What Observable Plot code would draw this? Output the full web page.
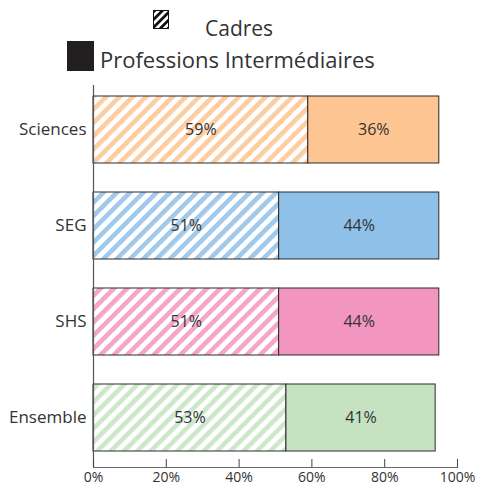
<!DOCTYPE html>
<html>
<head>
<meta charset="utf-8">
<script src="https://cdn.jsdelivr.net/npm/d3@7"></script>
<script src="https://cdn.jsdelivr.net/npm/@observablehq/plot@0.6"></script>
<style>
  html, body { margin: 0; padding: 0; background: #fff; }
  #wrap { width: 478px; height: 488px; position: relative; overflow: hidden; font-family: "Open Sans", sans-serif; }
  #legend { display: block; }
  #chart svg { display: block; }
</style>
</head>
<body>
<div id="wrap">
  <svg id="legend" width="478" height="80"></svg>
  <div id="chart"></div>
</div>
<script>
// ---- data ----
const categories = ["Sciences", "SEG", "SHS", "Ensemble"];
const cadres = [59, 51, 51, 53];
const profInter = [36, 44, 44, 41];
const colors = ["#fdc592", "#8fc0e8", "#f395c1", "#c5e3c1"];
const xTicks = [0, 20, 40, 60, 80, 100];
const legendLabels = ["Cadres", "Professions Intermédiaires"];

const FONT = "Open Sans, sans-serif";
const ink = "#333";

// ---- legend ----
const leg = d3.select("#legend");
const ldefs = leg.append("defs");
const lp = ldefs.append("pattern").attr("id", "hatch-legend")
  .attr("patternUnits", "userSpaceOnUse").attr("width", 5.5).attr("height", 5.5)
  .attr("patternTransform", "rotate(45)");
lp.append("rect").attr("width", 5.5).attr("height", 5.5).attr("fill", "#fff");
lp.append("rect").attr("width", 2.8).attr("height", 5.5).attr("fill", "#111");
leg.append("rect").attr("x", 153.5).attr("y", 10.5).attr("width", 15).attr("height", 18)
  .attr("fill", "url(#hatch-legend)").attr("stroke", "#111");
leg.append("text").attr("x", 205).attr("y", 36).attr("font-family", FONT).attr("font-size", 21)
  .attr("fill", ink).text(legendLabels[0]);
leg.append("rect").attr("x", 67).attr("y", 41).attr("width", 27).attr("height", 30).attr("fill", "#231f20");
leg.append("text").attr("x", 100).attr("y", 68).attr("font-family", FONT).attr("font-size", 22)
  .attr("fill", ink).text(legendLabels[1]);

// ---- table ----
const rows = [];
categories.forEach((c, i) => {
  rows.push({cat: c, idx: i, kind: "Cadres", x1: 0, x2: cadres[i], v: cadres[i], fill: `url(#hatch-${i})`});
  rows.push({cat: c, idx: i, kind: "PI", x1: cadres[i], x2: cadres[i] + profInter[i], v: profInter[i], fill: colors[i]});
});

const H = 408, MB = 21, MT = 0;
const frameH = H - MB - MT;

const plot = Plot.plot({
  width: 478,
  height: H,
  marginLeft: 93,
  marginRight: 21,
  marginTop: MT,
  marginBottom: MB,
  style: {fontFamily: FONT, fontSize: "14px", color: ink, background: "#fff"},
  x: {domain: [0, 100], label: null},
  y: {domain: categories, paddingInner: 0.3, paddingOuter: 0.15, label: null},
  color: {type: "identity"},
  marks: [
    Plot.barX(rows, {x1: "x1", x2: "x2", y: "cat", fill: "fill", stroke: "#2a2a2a", strokeWidth: 1}),
    Plot.text(rows, {x: d => (d.x1 + d.x2) / 2, y: "cat", text: d => `${d.v}%`, fontSize: 16, fill: ink}),
    Plot.ruleX([0], {stroke: "#555", strokeWidth: 1.2, insetTop: 5}),
    Plot.frame({anchor: "bottom", stroke: "#666", strokeWidth: 1.2}),
    Plot.tickX(xTicks, {x: d => d, stroke: "#444", insetTop: frameH - 8}),
    Plot.axisX(xTicks, {tickSize: 0, tickPadding: 5, tickFormat: d => d + "%", fontSize: 14, fill: ink, label: null}),
    Plot.axisY({tickSize: 0, tickPadding: 7, fontSize: 17, fill: ink, label: null})
  ]
});

// patterns for hatched bars
const svg = d3.select(plot);
const defs = svg.insert("defs", ":first-child");
colors.forEach((c, i) => {
  const p = defs.append("pattern").attr("id", `hatch-${i}`)
    .attr("patternUnits", "userSpaceOnUse").attr("width", 9.4).attr("height", 9.4)
    .attr("patternTransform", "rotate(45)");
  p.append("rect").attr("width", 9.4).attr("height", 9.4).attr("fill", "#fff");
  p.append("rect").attr("width", 4.6).attr("height", 9.4).attr("fill", c).attr("opacity", 0.85);
});

document.getElementById("chart").appendChild(plot);
</script>
</body>
</html>
